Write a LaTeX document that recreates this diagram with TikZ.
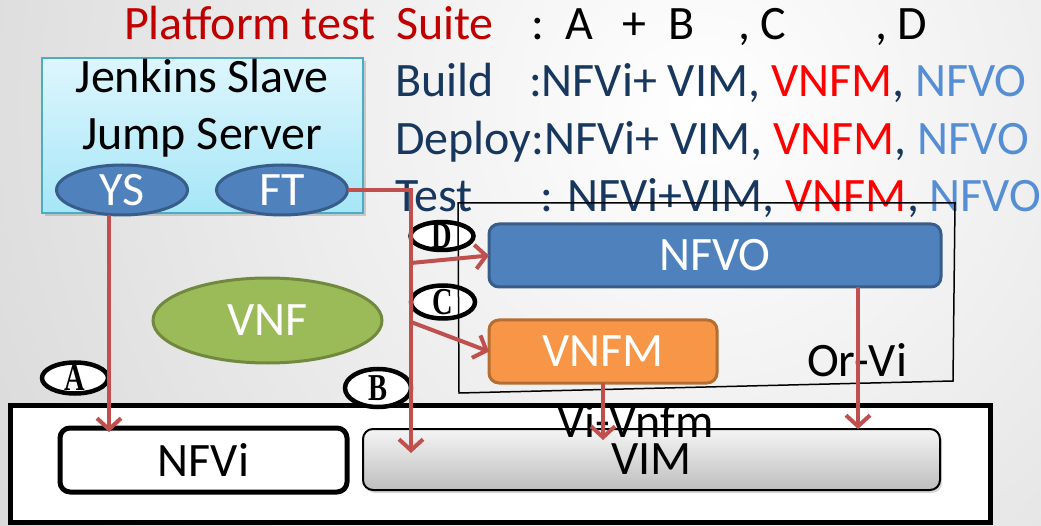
\documentclass[tikz,border=0pt]{standalone}
\usepackage{fontspec}
\setmainfont{Carlito}
\newfontfamily\serifletters{Liberation Serif}
\usetikzlibrary{arrows.meta,shadows,shapes.geometric}
\definecolor{redline}{HTML}{C0504D}
\definecolor{navy}{HTML}{17375E}
\definecolor{nfvoblue}{HTML}{558ED5}
\definecolor{darkred}{HTML}{C00000}
\definecolor{accblue}{HTML}{4F81BD}
\definecolor{accblueb}{HTML}{385D8A}
\definecolor{orangef}{HTML}{F79646}
\definecolor{oranged}{HTML}{B66D31}
\definecolor{greenf}{HTML}{9BBB59}
\definecolor{greend}{HTML}{71893F}
\definecolor{cyanb}{HTML}{4BACC6}
\definecolor{brightred}{HTML}{FF0000}
\newcommand{\narrowletter}[1]{\scalebox{0.75}[1]{#1}}
\tikzset{
  every node/.style={inner sep=0pt, outer sep=0pt},
  txt/.style={anchor=base west},
  jbox/.style={rectangle, draw=cyanb, line width=2pt, top color={rgb,255:red,222;green,246;blue,253}, bottom color={rgb,255:red,166;green,230;blue,247}, minimum width=321pt, minimum height=155pt, drop shadow={shadow xshift=3pt, shadow yshift=-3pt, opacity=0.35}},
  accell/.style={ellipse, draw=accblueb, line width=3pt, fill=accblue, text=white, minimum width=131pt, minimum height=50pt},
  letter/.style={ellipse, draw=black, line width=4.5pt, fill=white},
  lettertxt/.style={font=\serifletters\fontsize{38}{38}\selectfont},
  nfvobox/.style={rectangle, rounded corners=10pt, draw=accblueb, line width=3pt, fill=accblue, text=white, minimum width=452pt, minimum height=63pt},
  vnfmbox/.style={rectangle, rounded corners=10pt, draw=oranged, line width=3pt, fill=orangef, text=white, minimum width=228pt, minimum height=63pt},
  vimbox/.style={rectangle, rounded corners=10pt, draw=black, line width=2pt, top color={rgb,255:red,245;green,245;blue,245}, bottom color={rgb,255:red,190;green,190;blue,190}, minimum width=577pt, minimum height=61pt, drop shadow={shadow xshift=2pt, shadow yshift=-3pt, opacity=0.3}},
  nfvibox/.style={rectangle, rounded corners=10pt, draw=black, line width=5pt, fill=white, minimum width=287pt, minimum height=64pt},
  outerbox/.style={rectangle, draw=black, line width=5pt, fill=white, minimum width=980pt, minimum height=117pt},
  vnfell/.style={ellipse, draw=greend, line width=3pt, fill=greenf, text=white, minimum width=229pt, minimum height=85pt},
  redarrow/.style={draw=redline, line width=4pt, -{Straight Barb[length=11pt,width=24pt]}},
}
\begin{document}
\begin{tikzpicture}[x=1pt,y=-1pt,font=\fontsize{48}{57}\selectfont]
\useasboundingbox (0,0) rectangle (1041,526);
\begin{scope}
  \clip (0,0) rectangle (1041,526);
  \shade[inner color=white, outer color={rgb,255:red,188;green,188;blue,188}] (700,110) circle (1450pt);
\end{scope}

% top text
\node[txt, text=darkred] (plat) at (124,40) {Platform test};
\node[txt, text=darkred] (suite) at (396,40) {Suite};
\node[txt] (sc) at (531,40) {:};
\node[txt] (sa) at (565,40) {A};
\node[txt] (sp) at (622,40) {+};
\node[txt] (sb) at (668,40) {B};
\node[txt] (scc) at (738,40) {, C};
\node[txt] (sd) at (875,40) {, D};

\node[txt, text=navy] (build) at (395,97) {Build};
\node[txt, text=navy] (buildl) at (529,97) {:NFVi+ VIM, \textcolor{brightred}{VNFM}, \textcolor{nfvoblue}{NFVO}};
\node[txt, text=navy] (deploy) at (395,155) {Deploy:NFVi+ VIM, \textcolor{brightred}{VNFM}, \textcolor{nfvoblue}{NFVO}};
\node[txt, text=navy] (test) at (395,212) {Test};
\node[txt, text=navy] (testl) at (540,212) {: NFVi+VIM, \textcolor{brightred}{VNFM}, \textcolor{nfvoblue}{NFVO}};

% jenkins box
\node[jbox] (jenkins) at (202.5,135.5) {};
\node[anchor=base] (jt1) at (202,93) {Jenkins Slave};
\node[anchor=base] (jt2) at (202,150) {Jump Server};
\node[accell] (ys) at (122,190) {YS};
\node[accell] (ft) at (282,190) {FT};

% bottom
\node[outerbox] (outer) at (500,464) {};
\node[nfvibox] (nfvi) at (203.5,460) {NFVi};
\node[vimbox] (vim) at (651.5,459.5) {VIM};
\node[txt] (vivnfm) at (557,437) {Vi-Vnfm};

\node[nfvobox] (nfvo) at (715,255.5) {NFVO};
\node[vnfmbox] (vnfm) at (603,351.5) {VNFM};
\node[vnfell] (vnf) at (267.5,320.5) {VNF};

% letters
\node[letter, minimum width=66pt, minimum height=31pt, label={[lettertxt]center:\narrowletter{\bfseries A}}] (la) at (75,378) {};
\node[letter, minimum width=66pt, minimum height=38pt, label={[lettertxt]center:\narrowletter{\bfseries B}}] (lb) at (378,388) {};
\node[letter, minimum width=64pt, minimum height=33pt, label={[lettertxt]center:\narrowletter{\bfseries C}}] (lc) at (443,302) {};
\node[letter, minimum width=63pt, minimum height=28pt, label={[lettertxt]center:\narrowletter{\bfseries D}}] (ld) at (442,236) {};

% orchestration frame
\draw[line width=1.5pt] (458,203) -- (955,203) -- (953,381) -- (459,393) -- cycle;
\node[txt] (orvi) at (807,376) {Or-Vi};

% connectors
\coordinate (bend) at (411,190);
\coordinate (btip) at (411,453);
\coordinate (dsrc) at (411,263);
\coordinate (csrc) at (411,322);
\coordinate (atip) at (109,432);
\coordinate (ovtip) at (858,429);
\coordinate (vvtip) at (603,440);
\draw[redarrow] (ft.east) -- (bend) -- (btip);
\draw[redarrow] (dsrc) -- (nfvo.west);
\draw[redarrow] (csrc) -- (vnfm.west);
\draw[redarrow] (atip |- ys.south) -- (atip);
\draw[redarrow] (ovtip |- nfvo.south) -- (ovtip);
\draw[redarrow] (vnfm.south) -- (vvtip);
\end{tikzpicture}
\end{document}
